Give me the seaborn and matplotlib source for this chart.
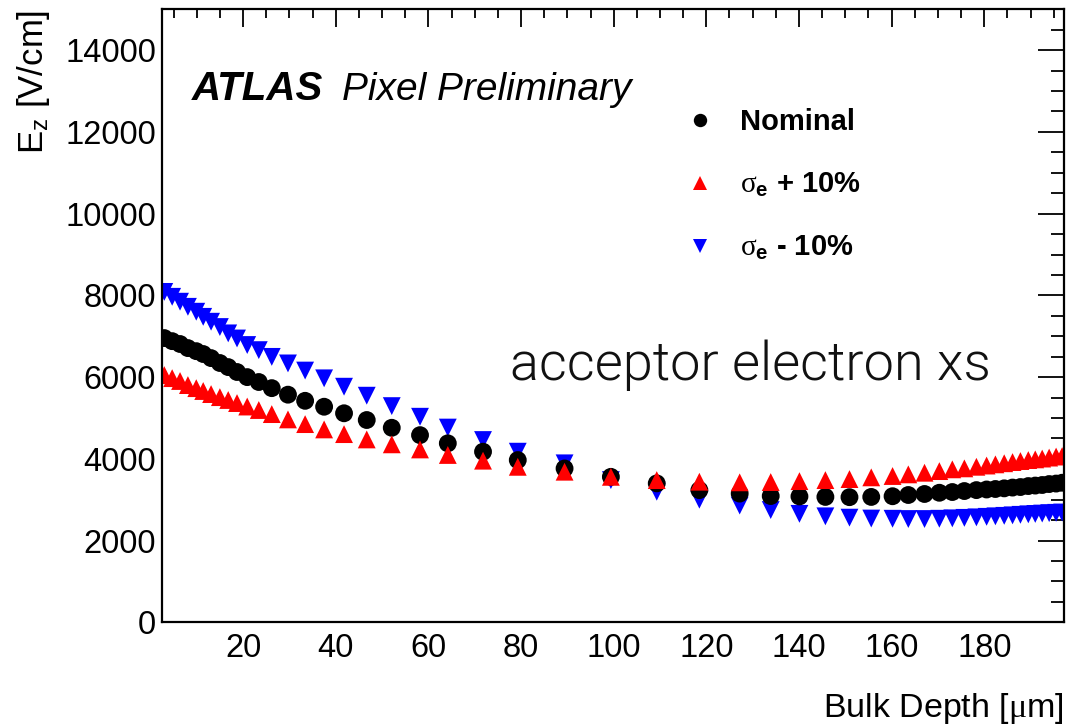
import numpy as np
import pandas as pd
import matplotlib
matplotlib.use("Agg")
import matplotlib.pyplot as plt
from matplotlib.ticker import MultipleLocator
import seaborn as sns

# Bulk depth of the simulation mesh nodes [um]
depth = [3.0, 4.7, 6.4, 8.1, 9.9, 11.4, 13.1, 15.0, 16.8, 18.7,
         20.9, 23.4, 26.2, 29.7, 33.4, 37.5, 41.8, 46.7, 52.1, 58.2,
         64.2, 71.8, 79.3, 89.4, 99.4, 109.3, 118.5, 127.2, 133.9, 140.1,
         145.7, 150.9, 155.6, 160.2, 163.6, 167.1, 170.3, 173.1, 175.7, 178.3,
         180.5, 182.4, 184.3, 186.1, 187.8, 189.5, 191.0, 192.5, 194.0, 195.5,
         196.8]

# E_z [V/cm] for the nominal acceptor electron cross section
ez_nominal = [6955, 6880, 6810, 6710, 6635, 6565, 6465, 6345, 6245, 6125,
              6000, 5880, 5730, 5570, 5420, 5275, 5115, 4950, 4760, 4580,
              4380, 4175, 3970, 3765, 3560, 3400, 3235, 3150, 3090, 3080,
              3068, 3062, 3068, 3085, 3115, 3140, 3170, 3188, 3212, 3235,
              3250, 3262, 3278, 3297, 3310, 3334, 3346, 3360, 3383, 3395,
              3415]

# E_z [V/cm] with sigma_e increased by 10%
ez_plus10 = [6050, 5975, 5905, 5805, 5730, 5660, 5585, 5510, 5440, 5365,
             5280, 5195, 5095, 4965, 4850, 4720, 4605, 4475, 4355, 4230,
             4095, 3955, 3805, 3685, 3560, 3480, 3440, 3425, 3432, 3455,
             3480, 3505, 3547, 3580, 3620, 3660, 3700, 3743, 3767, 3806,
             3836, 3865, 3892, 3921, 3946, 3970, 3987, 4007, 4031, 4056,
             4068]

# E_z [V/cm] with sigma_e decreased by 10%
ez_minus10 = [8085, 7965, 7845, 7720, 7600, 7475, 7355, 7225, 7070, 6945,
              6785, 6660, 6495, 6335, 6160, 5970, 5765, 5545, 5290, 5030,
              4765, 4460, 4175, 3890, 3480, 3195, 3000, 2857, 2747, 2654,
              2593, 2561, 2539, 2534, 2527, 2527, 2534, 2544, 2556, 2568,
              2581, 2593, 2605, 2617, 2630, 2642, 2652, 2661, 2671, 2679,
              2686]

lab_nom = "Nominal"
lab_plus = r"$\mathrm{\sigma}_{\mathbf{e}}$ + 10%"
lab_minus = r"$\mathrm{\sigma}_{\mathbf{e}}$ - 10%"
series_labels = [lab_nom, lab_plus, lab_minus]

x_ticks = [20, 40, 60, 80, 100, 120, 140, 160, 180]
y_ticks = [0, 2000, 4000, 6000, 8000, 10000, 12000, 14000]

# drawing order: -10% underneath, nominal in the middle, +10% on top
df = pd.concat([
    pd.DataFrame({"depth": depth, "ez": ez_minus10, "variation": lab_minus}),
    pd.DataFrame({"depth": depth, "ez": ez_nominal, "variation": lab_nom}),
    pd.DataFrame({"depth": depth, "ez": ez_plus10, "variation": lab_plus}),
], ignore_index=True)

sns.set_theme(style="white")
plt.rcParams["font.family"] = ["Liberation Sans", "DejaVu Sans"]
plt.rcParams["text.color"] = "black"
plt.rcParams["axes.labelcolor"] = "black"
plt.rcParams["mathtext.fontset"] = "custom"
plt.rcParams["mathtext.rm"] = "Liberation Serif"
plt.rcParams["mathtext.it"] = "Liberation Serif:italic"
plt.rcParams["mathtext.bf"] = "Liberation Sans:bold"

fig = plt.figure(figsize=(10.69, 7.27), dpi=100)
ax = fig.add_axes([0.1513, 0.1440, 0.8440, 0.8432])

palette = {lab_nom: "#000000", lab_plus: "#ff0000", lab_minus: "#0000ff"}
markers = {lab_nom: "o", lab_plus: "^", lab_minus: "v"}

sns.scatterplot(data=df, x="depth", y="ez", hue="variation", style="variation",
                hue_order=series_labels, style_order=series_labels,
                palette=palette, markers=markers, s=165, linewidth=0,
                edgecolor="none", ax=ax, legend=True)

ax.set_xlim(2.45, 197.2)
ax.set_ylim(0, 15000)
ax.set_xticks(x_ticks)
ax.set_yticks(y_ticks)
ax.set_xticklabels([str(v) for v in x_ticks])
ax.set_yticklabels([str(v) for v in y_ticks])
ax.xaxis.set_minor_locator(MultipleLocator(5))
ax.yaxis.set_minor_locator(MultipleLocator(500))

for s in ax.spines.values():
    s.set_color("black")
    s.set_linewidth(1.6)

ax.tick_params(axis="both", which="both", direction="in", top=True, right=True,
               colors="black", width=1.3)
ax.tick_params(axis="x", which="major", length=13, labelsize=23.5, pad=8)
ax.tick_params(axis="x", which="minor", length=6.5)
ax.tick_params(axis="y", which="major", length=19, labelsize=23.5, pad=4)
ax.tick_params(axis="y", which="minor", length=9.5)

ax.set_xlabel(r"Bulk Depth [$\mathrm{\mu}$m]", fontsize=24.5, color="black")
ax.xaxis.set_label_coords(1.0, -0.112)
ax.xaxis.label.set_horizontalalignment("right")
ax.set_ylabel(r"E$_{\mathregular{z}}$ [V/cm]", fontsize=25, color="black")
ax.yaxis.set_label_coords(-0.122, 1.0)
ax.yaxis.label.set_horizontalalignment("right")

ax.text(0.0336, 0.852, "ATLAS", transform=ax.transAxes, fontsize=29,
        fontweight="bold", fontstyle="italic", color="black")
ax.text(0.1998, 0.852, "Pixel Preliminary", transform=ax.transAxes,
        fontsize=28, fontstyle="italic", color="black")

ax.text(0.386, 0.395, "acceptor electron xs", transform=ax.transAxes,
        fontsize=39, fontfamily=["Roboto", "Liberation Sans"], fontweight=300,
        color="#111111")

handles, labels = ax.get_legend_handles_labels()
leg = ax.legend(handles, labels, loc="upper left",
                bbox_to_anchor=(0.568, 0.858), frameon=False,
                prop={"family": "Liberation Sans", "weight": "bold", "size": 21},
                labelcolor="black",
                markerscale=0.75, handletextpad=0.85, labelspacing=1.2,
                handlelength=1.0, borderaxespad=0)

fig.savefig("out.png", dpi=100)
